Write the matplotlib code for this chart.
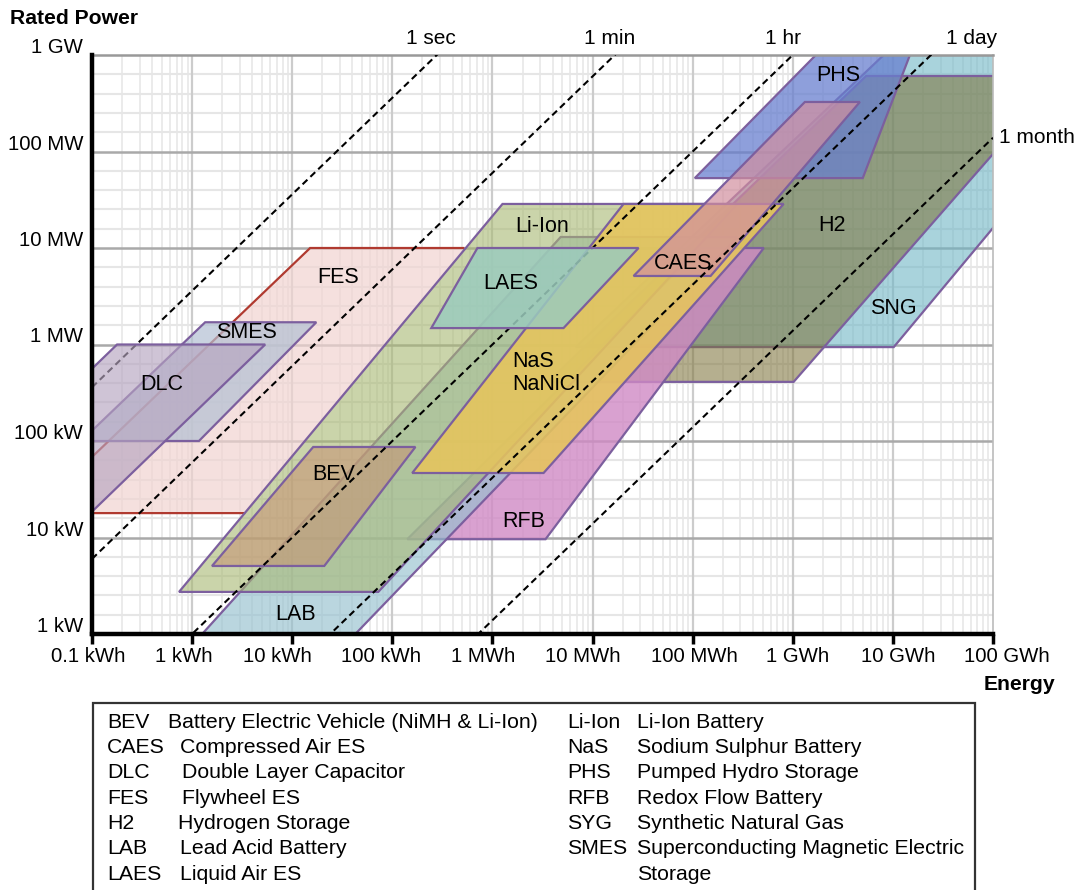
import matplotlib
matplotlib.use("Agg")
import matplotlib.pyplot as plt
import numpy as np
from matplotlib.patches import Polygon, Rectangle
from matplotlib.colors import to_rgba
from matplotlib.ticker import FixedLocator, NullLocator

plt.rcParams['font.family'] = ['Liberation Sans', 'DejaVu Sans']

# ---------------- data ----------------
x_ticks_kwh = [0.1, 1, 10, 1e2, 1e3, 1e4, 1e5, 1e6, 1e7, 1e8]
x_tick_labels = ['0.1 kWh', '1 kWh', '10 kWh', '100 kWh', '1 MWh', '10 MWh',
                 '100 MWh', '1 GWh', '10 GWh', '100 GWh']
y_ticks_kw = [1, 10, 100, 1e3, 1e4, 1e5, 1e6]
y_tick_labels = ['1 kW', '10 kW', '100 kW', '1 MW', '10 MW', '100 MW', '1 GW']

durations_h = [1 / 3600, 1 / 60, 1, 24, 720]
duration_labels = ['1 sec', '1 min', '1 hr', '1 day', '1 month']

# corner points of each technology region: energy (kWh), power (kW)
SNG_E = [6.8e3, 1.02e7, 2.75e9, 8.1e6]
SNG_P = [940, 940, 1e6, 1e6]
H2_E = [3.6e3, 1.02e6, 4.8e8, 5.4e6]
H2_P = [410, 410, 6.06e5, 6.06e5]
PHS_E = [1.05e5, 5.0e6, 1.48e7, 1.7e6]
PHS_P = [5.3e4, 5.3e4, 1e6, 1e6]
RFB_E = [141, 3.39e3, 5.13e5, 1.2e5]
RFB_P = [9.6, 9.6, 1e4, 1e4]
FES_E = [0.026, 3.4, 525, 15.1]
FES_P = [17.9, 17.9, 1e4, 1e4]
LAB_E = [1.26, 42.7, 2.8e5, 4.8e3]
LAB_P = [1, 1, 1.3e4, 1.3e4]
SMES_E = [0.078, 1.17, 17.4, 1.35]
SMES_P = [100, 100, 1.7e3, 1.7e3]
LION_E = [0.74, 72.4, 2.8e5, 1.26e3]
LION_P = [2.73, 2.73, 2.86e4, 2.86e4]
BEV_E = [1.58, 20.9, 170, 16.2]
BEV_P = [5.07, 5.07, 86.7, 86.7]
NAS_E = [158, 3.24e3, 8.1e5, 2.04e4]
NAS_P = [46.6, 46.6, 2.86e4, 2.86e4]
CAES_E = [2.57e4, 1.51e5, 4.68e6, 1.32e6]
CAES_P = [5.13e3, 5.13e3, 3.26e5, 3.26e5]
DLC_E = [0.0009, 0.027, 5.37, 0.178]
DLC_P = [5, 5, 1000, 1000]
LAES_E = [245, 5.13e3, 2.88e4, 708]
LAES_P = [1.48e3, 1.48e3, 1e4, 1e4]

label_text = ['DLC', 'SMES', 'FES', 'Li-Ion', 'LAES', 'CAES', 'NaS\nNaNiCl',
              'BEV', 'RFB', 'LAB', 'PHS', 'H2', 'SNG']
label_E = [0.5, 3.47, 28.8, 3160, 1514, 7.94e4, 1585, 25.7, 2042, 10.7,
           2.88e6, 2.45e6, 1.02e7]
label_P = [389, 1318, 4900, 1.69e4, 4335, 6830, 507, 44.5, 14.8, 1.61,
           6.06e5, 1.73e4, 2333]

legend_left = [('BEV', 'Battery Electric Vehicle (NiMH & Li-Ion)'),
               ('CAES', 'Compressed Air ES'),
               ('DLC', 'Double Layer Capacitor'),
               ('FES', 'Flywheel ES'),
               ('H2', 'Hydrogen Storage'),
               ('LAB', 'Lead Acid Battery'),
               ('LAES', 'Liquid Air ES')]
legend_right = [('Li-Ion', 'Li-Ion Battery'),
                ('NaS', 'Sodium Sulphur Battery'),
                ('PHS', 'Pumped Hydro Storage'),
                ('RFB', 'Redox Flow Battery'),
                ('SYG', 'Synthetic Natural Gas'),
                ('SMES', 'Superconducting Magnetic Electric\nStorage')]

# ---------------- figure ----------------
W, H = 1078, 890
PT = 0.72  # points per pixel at 100 dpi
fig = plt.figure(figsize=(W / 100, H / 100), dpi=100)
ax = fig.add_axes([92 / W, 1 - 634 / H, (993 - 92) / W, (634 - 55) / H])
ax.set_xscale('log')
ax.set_yscale('log')
ax.set_xlim(0.1, 1e8)
ax.set_ylim(1, 1e6)

# grid
for k in range(-1, 8):
    for m in range(2, 10):
        ax.axvline(m * 10.0 ** k, color='#e9e9e9', lw=1.3, zorder=0)
for k in range(0, 6):
    for j in range(1, 5):
        ax.axhline(10 ** (k + j / 5), color='#e6e6e6', lw=1.5, zorder=0)
for v in x_ticks_kwh[1:-1]:
    ax.axvline(v, color='#cccccc', lw=1.6, zorder=0.5)
for v in y_ticks_kw[1:-1]:
    ax.axhline(v, color='#a9a9a9', lw=1.8, zorder=0.5)

ax.xaxis.set_major_locator(FixedLocator(x_ticks_kwh))
ax.xaxis.set_minor_locator(NullLocator())
ax.yaxis.set_major_locator(FixedLocator(y_ticks_kw))
ax.yaxis.set_minor_locator(NullLocator())
ax.tick_params(axis='x', which='major', direction='out', length=7, width=2.5,
               color='black', labelbottom=False)
ax.tick_params(axis='y', which='major', length=0, labelleft=False)

# tick labels (small horizontal shifts as in the original drawing)
x_label_shift_px = [-4, -8, -15, -11, -9, -10, 2, 5, 5, 14]
for v, lab, dx in zip(x_ticks_kwh, x_tick_labels, x_label_shift_px):
    ax.annotate(lab, xy=(v, 0), xycoords=('data', 'axes fraction'),
                xytext=(dx * PT, -28 * PT), textcoords='offset points',
                ha='center', va='baseline', fontsize=14.7, annotation_clip=False)
for v, lab in zip(y_ticks_kw, y_tick_labels):
    ax.annotate(lab, xy=(0, v), xycoords=('axes fraction', 'data'),
                xytext=(-9 * PT, 2 * PT), textcoords='offset points',
                ha='right', va='baseline', fontsize=14.7, annotation_clip=False)

for s in ['left', 'bottom']:
    ax.spines[s].set_linewidth(3.2)
    ax.spines[s].set_color('black')
    ax.spines[s].set_zorder(20)
ax.spines['top'].set_color('#999999')
ax.spines['top'].set_linewidth(1.8)
ax.spines['right'].set_color('#bbbbbb')
ax.spines['right'].set_linewidth(1.2)

EDGE = '#7c5f9e'
# (E, P, fill colour, alpha, edge colour, z-order)
shapes = [
    (SNG_E, SNG_P, '#70b6c6', 0.6, EDGE, 2),
    (H2_E, H2_P, '#7d733a', 0.57, EDGE, 2.1),
    (PHS_E, PHS_P, '#687fcf', 0.75, EDGE, 2.2),
    (RFB_E, RFB_P, '#d08ac5', 0.8, EDGE, 2.3),
    (FES_E, FES_P, '#f1d4d1', 0.7, None, 2.4),
    (LAB_E, LAB_P, '#95c1cf', 0.65, EDGE, 2.5),
    (SMES_E, SMES_P, '#b2c0d3', 0.7, EDGE, 2.6),
    (LION_E, LION_P, '#a8b872', 0.6, EDGE, 2.7),
    (BEV_E, BEV_P, '#c69575', 0.6, EDGE, 2.8),
    (NAS_E, NAS_P, '#e6c55c', 0.88, EDGE, 2.9),
    (CAES_E, CAES_P, '#d28f9f', 0.7, EDGE, 3.0),
    (DLC_E, DLC_P, '#b6a5c0', 0.65, EDGE, 5.0),
    (LAES_E, LAES_P, '#9bcbbd', 0.85, EDGE, 5.1),
]
for E, P, col, a, ec, z in shapes:
    pts = np.column_stack([E, P])
    if ec is None:
        ax.add_patch(Polygon(pts, closed=True, facecolor=to_rgba(col, a),
                             edgecolor='none', zorder=z))
        # flywheel outline: red, right side hidden below Li-Ion
        outline = pts[[2, 3, 0, 1]]
        ax.add_patch(Polygon(outline, closed=False, facecolor='none',
                             edgecolor='#b03a30', lw=1.6, zorder=z + 0.01))
    else:
        ax.add_patch(Polygon(pts, closed=True, facecolor=to_rgba(col, a),
                             edgecolor=ec, lw=1.6, zorder=z))

# duration lines
E_line = np.logspace(-1, 8, 400)
for t, lab in zip(durations_h, duration_labels):
    ax.plot(E_line, E_line / t, color='black', lw=1.5, ls=(0, (3.2, 2.0)), zorder=4)
    if t < 100:
        dx = {'1 day': 29, '1 hr': -7}.get(lab, -4)
        ax.annotate(lab, xy=(1e6 * t, 1e6), xytext=(dx, 5), textcoords='offset points',
                    ha='center', va='bottom', fontsize=15, annotation_clip=False)
    else:
        ax.annotate(lab, xy=(1e8, 1e8 / t), xytext=(4, 0), textcoords='offset points',
                    ha='left', va='center', fontsize=15, annotation_clip=False)

for txt, e, p in zip(label_text, label_E, label_P):
    if '\n' in txt:
        ax.text(e, p, txt, ha='left', va='center', fontsize=15.5, zorder=10,
                linespacing=1.15)
    else:
        ax.text(e, p, txt, ha='center', va='center', fontsize=15.5, zorder=10)

# axis titles
fig.text(10 / W, 1 - 18 / H, 'Rated Power', fontsize=15.2, fontweight='bold',
         ha='left', va='center')
fig.text(1055 / W, 1 - 685 / H, 'Energy', fontsize=15.2, fontweight='bold',
         ha='right', va='center')

# legend box
box = Rectangle((93 / W, 1 - 895 / H), (975 - 93) / W, (895 - 703) / H,
                transform=fig.transFigure, facecolor='white', edgecolor='#333333',
                lw=1.6, zorder=1)
fig.patches.append(box)
row_y = [722.5, 747.8, 773, 798.5, 823.8, 849, 874.5]
left_desc_x = [168, 180, 182, 182, 178, 180, 180]
FS_LEG = 15.3
for (ab, desc), y, dx in zip(legend_left, row_y, left_desc_x):
    fig.text(107 / W, 1 - y / H, ab, fontsize=FS_LEG, ha='left', va='center')
    fig.text(dx / W, 1 - y / H, desc, fontsize=FS_LEG, ha='left', va='center')
for (ab, desc), y in zip(legend_right, row_y):
    fig.text(567 / W, 1 - y / H, ab, fontsize=FS_LEG, ha='left', va='center')
    if '\n' in desc:
        first, second = desc.split('\n')
        fig.text(637 / W, 1 - y / H, first, fontsize=FS_LEG, ha='left', va='center')
        fig.text(637 / W, 1 - (y + 25.3) / H, second, fontsize=FS_LEG, ha='left', va='center')
    else:
        fig.text(637 / W, 1 - y / H, desc, fontsize=FS_LEG, ha='left', va='center')

fig.savefig('out.png', dpi=100)
